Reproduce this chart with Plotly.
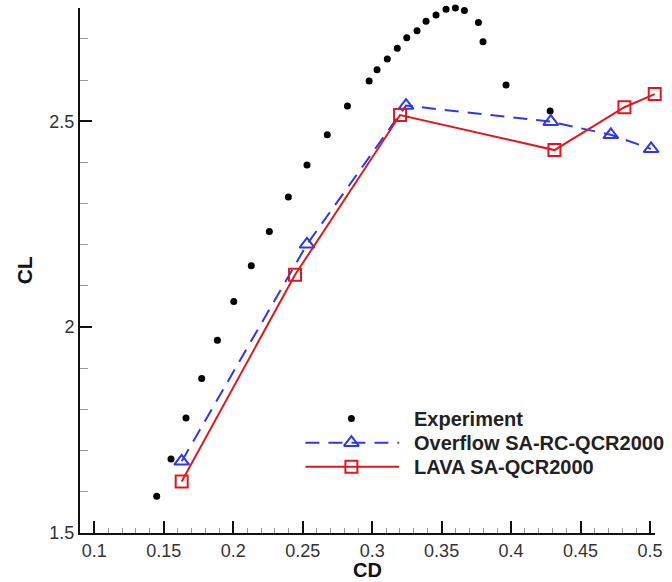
import plotly.graph_objects as go

# Experimental drag polar
exp_cd = [0.1449, 0.1552, 0.1660, 0.1773, 0.1886, 0.2004, 0.2130, 0.2260, 0.2397,
          0.2531, 0.2677, 0.2822, 0.2978, 0.3035, 0.3109, 0.3181, 0.3249, 0.3323,
          0.3388, 0.3460, 0.3532, 0.3599, 0.3664, 0.3765, 0.3798, 0.3964, 0.4281]
exp_cl = [1.589, 1.680, 1.779, 1.875, 1.968, 2.062, 2.149, 2.232, 2.316,
          2.394, 2.467, 2.537, 2.598, 2.625, 2.651, 2.677, 2.703, 2.720,
          2.743, 2.758, 2.772, 2.775, 2.769, 2.740, 2.693, 2.588, 2.525]

# Overflow SA-RC-QCR2000
ovf_cd = [0.1629, 0.2531, 0.3244, 0.4286, 0.4718, 0.5008]
ovf_cl = [1.674, 2.201, 2.538, 2.499, 2.467, 2.433]

# LAVA SA-QCR2000
lava_cd = [0.1629, 0.2445, 0.3201, 0.4312, 0.4816, 0.5034]
lava_cl = [1.625, 2.127, 2.515, 2.430, 2.534, 2.566]

legend_labels = ["Experiment", "Overflow SA-RC-QCR2000", "LAVA SA-QCR2000"]

x_ticks = [0.1, 0.15, 0.2, 0.25, 0.3, 0.35, 0.4, 0.45, 0.5]
x_ticktext = ["0.1", "0.15", "0.2", "0.25", "0.3", "0.35", "0.4", "0.45", "0.5"]
y_ticks = [1.5, 2.0, 2.5]
y_ticktext = ["1.5", "2", "2.5"]

BLUE = "rgb(45,55,235)"
RED = "rgb(220,25,30)"
FONT = "Liberation Sans, Arial, Helvetica, sans-serif"

fig = go.Figure()

fig.add_trace(go.Scatter(
    x=exp_cd, y=exp_cl, mode="markers", name=legend_labels[0],
    marker=dict(symbol="circle", size=7, color="black"),
    cliponaxis=False, showlegend=False))

fig.add_trace(go.Scatter(
    x=ovf_cd, y=ovf_cl, mode="lines+markers", name=legend_labels[1],
    line=dict(color=BLUE, width=2, dash="14px,9px"),
    marker=dict(symbol="triangle-up-open", size=13, color=BLUE, line=dict(width=2)),
    cliponaxis=False, showlegend=False))

fig.add_trace(go.Scatter(
    x=lava_cd, y=lava_cl, mode="lines+markers", name=legend_labels[2],
    line=dict(color=RED, width=2),
    marker=dict(symbol="square-open", size=12, color=RED, line=dict(width=2)),
    cliponaxis=False, showlegend=False))

# Hand-drawn legend on an overlay axis spanning the plot area (0..1 both ways)
leg_x_line = (0.392, 0.555)
leg_x_mark = 0.472
leg_x_text = 0.577
leg_y = [0.218, 0.172, 0.126]

fig.add_trace(go.Scatter(
    x=[leg_x_mark], y=[leg_y[0]], mode="markers", xaxis="x2", yaxis="y2",
    marker=dict(symbol="circle", size=7, color="black"),
    cliponaxis=False, showlegend=False, hoverinfo="skip"))
fig.add_trace(go.Scatter(
    x=[leg_x_line[0], leg_x_line[1]], y=[leg_y[1], leg_y[1]], mode="lines",
    xaxis="x2", yaxis="y2",
    line=dict(color=BLUE, width=2, dash="14px,9px"),
    cliponaxis=False, showlegend=False, hoverinfo="skip"))
fig.add_trace(go.Scatter(
    x=[leg_x_mark], y=[leg_y[1]], mode="markers", xaxis="x2", yaxis="y2",
    marker=dict(symbol="triangle-up-open", size=13, color=BLUE, line=dict(width=2)),
    cliponaxis=False, showlegend=False, hoverinfo="skip"))
fig.add_trace(go.Scatter(
    x=[leg_x_line[0], leg_x_mark, leg_x_line[1]], y=[leg_y[2]] * 3, mode="lines+markers",
    xaxis="x2", yaxis="y2",
    line=dict(color=RED, width=2),
    marker=dict(symbol="square-open", size=12, color=RED, line=dict(width=2),
                opacity=[0, 1, 0]),
    cliponaxis=False, showlegend=False, hoverinfo="skip"))

for label, yy in zip(legend_labels, leg_y):
    fig.add_annotation(
        x=leg_x_text, y=yy, xref="x2", yref="y2", text=f"<b>{label}</b>",
        showarrow=False, xanchor="left", yanchor="middle",
        font=dict(family=FONT, size=20, color="#222"))

# Axis titles
fig.add_annotation(x=0.5, y=-0.0705, xref="paper", yref="paper", text="<b>CD</b>",
                   showarrow=False, xanchor="center", yanchor="middle", borderpad=0,
                   font=dict(family=FONT, size=20, color="#111"))
fig.add_annotation(x=-0.096, y=0.5, xref="paper", yref="paper", text="<b>CL</b>",
                   showarrow=False, xanchor="center", yanchor="middle", textangle=-90,
                   borderpad=0, font=dict(family=FONT, size=21, color="#111"))

fig.update_layout(
    width=672, height=582,
    margin=dict(l=80, r=17, t=8, b=49),
    paper_bgcolor="white", plot_bgcolor="white",
    font=dict(family=FONT, color="#333"),
    xaxis=dict(
        range=[0.0897, 0.5036], tickvals=x_ticks, ticktext=x_ticktext,
        ticks="inside", ticklen=12, tickwidth=2, tickcolor="#111",
        showline=True, linecolor="#111", linewidth=2, mirror=False,
        showgrid=False, zeroline=False,
        tickfont=dict(family=FONT, size=18, color="#333"),
        minor=dict(dtick=0.01, ticks="inside", ticklen=5, tickwidth=1,
                   tickcolor="#999", showgrid=False),
    ),
    yaxis=dict(
        range=[1.5, 2.775], tickvals=y_ticks, ticktext=y_ticktext,
        ticks="inside", ticklen=12, tickwidth=2, tickcolor="#111",
        showline=True, linecolor="#111", linewidth=2, mirror=False,
        showgrid=False, zeroline=False,
        tickfont=dict(family=FONT, size=18, color="#333"),
        minor=dict(dtick=0.1, ticks="inside", ticklen=8, tickwidth=1,
                   tickcolor="#999", showgrid=False),
    ),
    xaxis2=dict(overlaying="x", range=[0, 1], visible=False, domain=[0, 1]),
    yaxis2=dict(overlaying="y", range=[0, 1], visible=False, domain=[0, 1]),
    showlegend=False,
)

fig.write_html("out.html")
